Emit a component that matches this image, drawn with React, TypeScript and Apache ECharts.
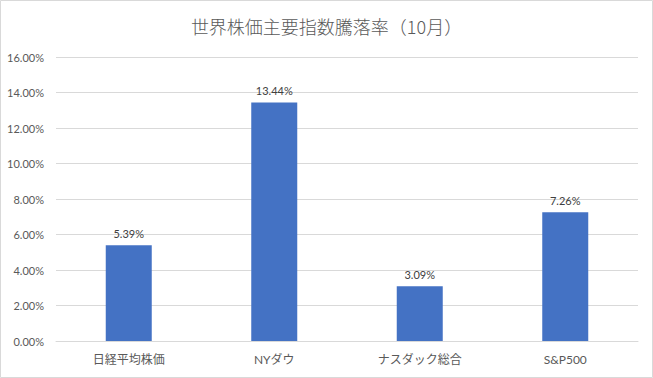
import React, { useEffect, useRef } from "react";
import * as echarts from "echarts";

const categories = ["日経平均株価", "NYダウ", "ナスダック総合", "S&P500"];
const values = [5.39, 13.44, 3.09, 7.26];
const titleText = "世界株価主要指数騰落率（10月）";

const FONT = 'Lato, "Noto Sans CJK JP", sans-serif';

export default function App() {
  const ref = useRef<HTMLDivElement>(null);
  useEffect(() => {
    if (!ref.current) return;
    const chart = echarts.init(ref.current, null, { renderer: "svg" });
    chart.setOption({
      animation: false,
      backgroundColor: "#ffffff",
      title: {
        text: titleText,
        left: "center",
        top: 12,
        textStyle: { fontFamily: '"Noto Sans CJK JP", sans-serif', fontSize: 18, fontWeight: 300, color: "#595959" },
      },
      grid: { left: 56, right: 15, top: 57, bottom: 37 },
      xAxis: {
        type: "category",
        data: categories,
        axisLine: { lineStyle: { color: "#d9d9d9" } },
        axisTick: { show: false },
        axisLabel: { fontFamily: FONT, fontSize: 12, color: "#595959", margin: 12 },
      },
      yAxis: {
        type: "value",
        min: 0,
        max: 16,
        interval: 2,
        axisLine: { show: false },
        axisTick: { show: false },
        splitLine: { lineStyle: { color: "#d9d9d9" } },
        axisLabel: {
          fontFamily: FONT,
          fontSize: 11,
          color: "#595959",
          margin: 12,
          formatter: (v: number) => v.toFixed(2) + "%",
        },
      },
      series: [
        {
          type: "bar",
          data: values,
          barWidth: 46,
          itemStyle: { color: "#4472C4" },
          label: {
            show: true,
            position: "top",
            distance: 6,
            fontFamily: FONT,
            fontSize: 11,
            color: "#404040",
            formatter: (p: any) => p.value.toFixed(2) + "%",
          },
        },
      ],
      graphic: [
        {
          type: "rect",
          shape: { x: 0.5, y: 0.5, width: 652, height: 377 },
          style: { fill: "none", stroke: "#d9d9d9", lineWidth: 1 },
          silent: true,
        },
      ],
    });
    return () => chart.dispose();
  }, []);
  return (
    <div
      ref={ref}
      style={{ position: "fixed", left: 0, top: 0, width: 653, height: 378 }}
    />
  );
}
